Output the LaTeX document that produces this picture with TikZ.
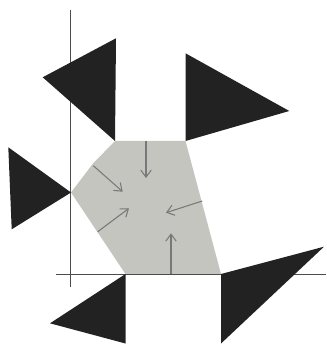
\documentclass[tikz,border=0pt]{standalone}
\usetikzlibrary{arrows.meta}
\definecolor{cellgray}{RGB}{197,197,192}
\definecolor{wedgeblack}{RGB}{34,34,34}
\definecolor{arrowgray}{RGB}{120,120,120}
\begin{document}
\begin{tikzpicture}[
		x=0.03cm, y=-0.03cm,
		cell/.style={fill=cellgray, draw=none},
		wedge/.style={fill=wedgeblack, draw=none},
		axis/.style={draw=black!70, line width=0.5pt},
		push/.style={draw=arrowgray, line width=0.9pt, -{Straight Barb[length=6pt, width=9pt]}}
	]
	\useasboundingbox (0,0) rectangle (326,344);

	% Region
	\coordinate (c1) at (115,141);
	\coordinate (c2) at (185.5,141);
	\coordinate (c3) at (221,274);
	\coordinate (c4) at (125.5,274);
	\coordinate (c5) at (71,192.5);
	\coordinate (c6) at (93,163.5);
	\path [cell] (c1) -- (c2) -- (c3) -- (c4) -- (c5) -- (c6) -- cycle;

	% Axes
	\coordinate (yTop) at (70.5,10);
	\coordinate (yBot) at (70.5,287);
	\coordinate (xLeft) at (56,274);
	\coordinate (xRight) at (326,274);
	\path [axis] (yTop) -- (yBot);
	\path [axis] (xLeft) -- (xRight);

	% Wedges
	\path [wedge] (42.7,77.3) -- (116,38.3) -- (c1) -- cycle;
	\path [wedge] (185.5,53.3) -- (289.3,111) -- (c2) -- cycle;
	\path [wedge] (8.3,147.3) -- (c5) -- (11.7,229.3) -- cycle;
	\path [wedge] (c4) -- (50,323.3) -- (125.5,343.5) -- cycle;
	\path [wedge] (c3) -- (324,246.7) -- (221,343.5) -- cycle;

	% Arrows
	\coordinate (a1) at (146,141);    \coordinate (b1) at (146,178);
	\coordinate (a2) at (93.3,165.7); \coordinate (b2) at (122.7,191.7);
	\coordinate (a3) at (97.7,231.7); \coordinate (b3) at (129,208.3);
	\coordinate (a4) at (202.3,201);  \coordinate (b4) at (166,212.7);
	\coordinate (a5) at (171,274);    \coordinate (b5) at (171,233.3);
	\foreach \i in {1,...,5}
		\path [push] (a\i) -- (b\i);

\end{tikzpicture}
\end{document}
